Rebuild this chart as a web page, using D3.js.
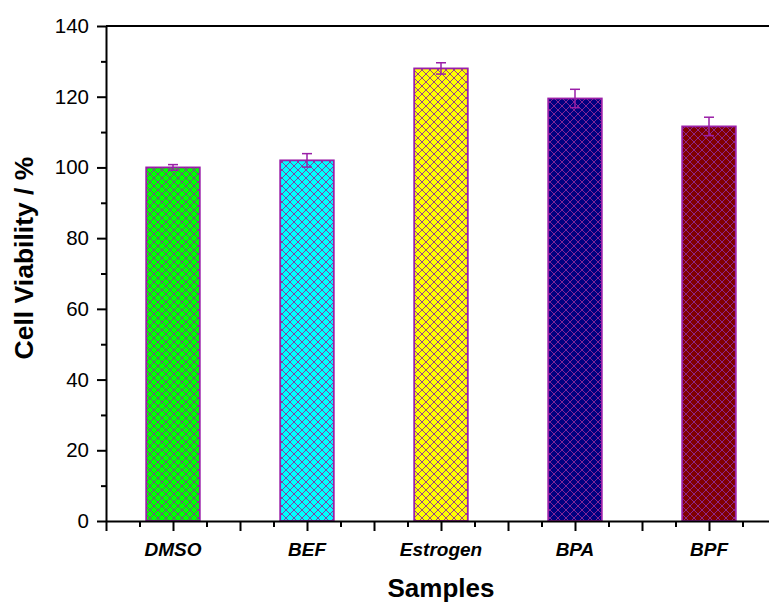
<!DOCTYPE html>
<html>
<head>
<meta charset="utf-8">
<script src="https://cdn.jsdelivr.net/npm/d3@7"></script>
<style>
  body { margin: 0; background: #fff; }
  svg { font-family: "Liberation Sans", Arial, sans-serif; }
</style>
</head>
<body>
<div id="chart"></div>
<script>
// Data
const samples = ["DMSO", "BEF", "Estrogen", "BPA", "BPF"];
const viability = [100.0, 102.0, 128.0, 119.5, 111.6];
const errors = [0.8, 1.9, 1.6, 2.6, 2.6];
const fills = ["#00ff00", "#00ffff", "#ffff00", "#000080", "#800000"];
const yTicks = [0, 20, 40, 60, 80, 100, 120, 140];

const W = 769, H = 603;
const margin = { top: 26, right: 0, bottom: 82, left: 106 };
const width = W - margin.left - margin.right;
const height = H - margin.top - margin.bottom;

const svg = d3.select("#chart").append("svg")
    .attr("width", W)
    .attr("height", H);

// crosshatch patterns, one per fill colour
const defs = svg.append("defs");
fills.forEach((c, i) => {
    const p = defs.append("pattern")
        .attr("id", "hatch" + i)
        .attr("patternUnits", "userSpaceOnUse")
        .attr("width", 8)
        .attr("height", 8);
    p.append("rect").attr("width", 8).attr("height", 8).attr("fill", c);
    p.append("path")
        .attr("d", "M0,0L8,8M0,8L8,0M-1,1L1,-1M7,9L9,7M-1,7L1,9M7,-1L9,1")
        .attr("stroke", "#8e2a9a")
        .attr("stroke-width", 0.9)
        .attr("fill", "none");
});

const g = svg.append("g")
    .attr("transform", `translate(${margin.left},${margin.top})`);

// x is a numeric axis: category i sits at i+1, axis runs from 0.5
const x = d3.scaleLinear()
    .domain([0.5, 0.5 + width / 134])
    .range([0, width]);

const y = d3.scaleLinear()
    .domain([0, 140])
    .range([height, 0]);

const barW = x(1.4) - x(1);

// bars
g.selectAll(".bar")
    .data(samples)
    .enter()
    .append("rect")
    .attr("class", "bar")
    .attr("x", (d, i) => x(i + 1) - barW / 2)
    .attr("y", (d, i) => y(viability[i]))
    .attr("width", barW)
    .attr("height", (d, i) => height - y(viability[i]))
    .attr("fill", (d, i) => `url(#hatch${i})`)
    .attr("stroke", "#9a1fa8")
    .attr("stroke-width", 1.8);

// error bars
const errG = g.selectAll(".err")
    .data(samples)
    .enter()
    .append("g")
    .attr("class", "err")
    .attr("stroke", "#9a1fa8")
    .attr("stroke-width", 1.5);

errG.append("line")
    .attr("x1", (d, i) => x(i + 1))
    .attr("x2", (d, i) => x(i + 1))
    .attr("y1", (d, i) => y(viability[i] - errors[i]))
    .attr("y2", (d, i) => y(viability[i] + errors[i]));
errG.append("line")
    .attr("x1", (d, i) => x(i + 1) - 5)
    .attr("x2", (d, i) => x(i + 1) + 5)
    .attr("y1", (d, i) => y(viability[i] + errors[i]))
    .attr("y2", (d, i) => y(viability[i] + errors[i]));
errG.append("line")
    .attr("x1", (d, i) => x(i + 1) - 5)
    .attr("x2", (d, i) => x(i + 1) + 5)
    .attr("y1", (d, i) => y(viability[i] - errors[i]))
    .attr("y2", (d, i) => y(viability[i] - errors[i]));

// y axis: major + minor ticks
const yMinor = d3.range(10, 140, 20);
g.append("g")
    .call(d3.axisLeft(y).tickValues(yMinor).tickSize(5).tickFormat(""))
    .call(a => a.select(".domain").remove())
    .selectAll("line").attr("stroke-width", 2);

const yAxis = g.append("g")
    .call(d3.axisLeft(y).tickValues(yTicks).tickSize(9).tickPadding(8).tickSizeOuter(0));
yAxis.select(".domain").attr("stroke-width", 2);
yAxis.selectAll("line").attr("stroke-width", 2);
yAxis.selectAll("text")
    .attr("font-size", 20.5)
    .attr("font-family", "'Liberation Sans', Arial, sans-serif");

// x axis: ticks every half category, minor at quarters
const xMax = x.domain()[1];
g.append("g")
    .attr("transform", `translate(0,${height})`)
    .call(d3.axisBottom(x).tickValues(d3.range(0.75, xMax, 0.5)).tickSize(6).tickFormat(""))
    .call(a => a.select(".domain").remove())
    .selectAll("line").attr("stroke-width", 2);

const xAxis = g.append("g")
    .attr("transform", `translate(0,${height})`)
    .call(d3.axisBottom(x).tickValues(d3.range(0.5, xMax, 0.5)).tickSize(10).tickFormat("").tickSizeOuter(0));
xAxis.select(".domain").attr("stroke-width", 2);
xAxis.selectAll("line").attr("stroke-width", 2);

// category labels
g.selectAll(".cat")
    .data(samples)
    .enter()
    .append("text")
    .attr("class", "cat")
    .attr("x", (d, i) => x(i + 1))
    .attr("y", height + 35)
    .attr("text-anchor", "middle")
    .attr("font-size", 19)
    .attr("font-weight", "bold")
    .attr("font-style", "italic")
    .text(d => d);

// top frame line
g.append("line")
    .attr("x1", 0).attr("x2", width)
    .attr("y1", 0).attr("y2", 0)
    .attr("stroke", "#000")
    .attr("stroke-width", 2);

// axis titles
svg.append("text")
    .attr("x", margin.left + x(3))
    .attr("y", 597)
    .attr("text-anchor", "middle")
    .attr("font-size", 26)
    .attr("font-weight", "bold")
    .text("Samples");

svg.append("text")
    .attr("transform", `translate(33,258) rotate(-90)`)
    .attr("text-anchor", "middle")
    .attr("font-size", 26.5)
    .attr("font-weight", "bold")
    .text("Cell Viability / %");
</script>
</body>
</html>
